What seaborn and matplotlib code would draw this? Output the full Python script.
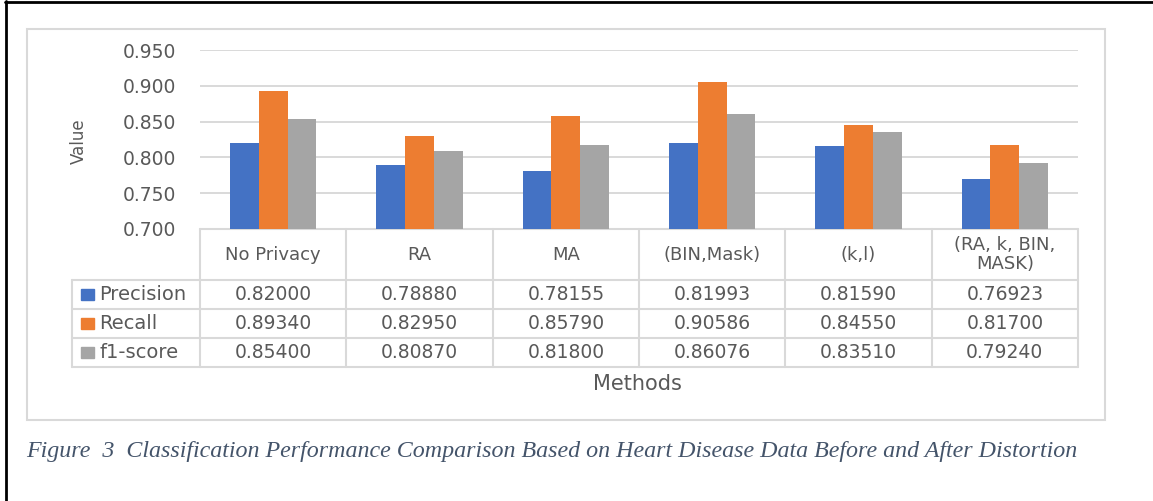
import numpy as np
import pandas as pd
import seaborn as sns
import matplotlib
matplotlib.use("Agg")
import matplotlib.pyplot as plt
from matplotlib.transforms import blended_transform_factory
from matplotlib.patches import Rectangle

# ---------------- data ----------------
methods = ["No Privacy", "RA", "MA", "(BIN,Mask)", "(k,l)", "(RA, k, BIN,\nMASK)"]
series = ["Precision", "Recall", "f1-score"]
precision = [0.82000, 0.78880, 0.78155, 0.81993, 0.81590, 0.76923]
recall = [0.89340, 0.82950, 0.85790, 0.90586, 0.84550, 0.81700]
f1_score = [0.85400, 0.80870, 0.81800, 0.86076, 0.83510, 0.79240]
yticks = [0.700, 0.750, 0.800, 0.850, 0.900, 0.950]
y_label = "Value"
x_label = "Methods"
caption = "Figure  3  Classification Performance Comparison Based on Heart Disease Data Before and After Distortion"
colors = ["#4472C4", "#ED7D31", "#A5A5A5"]

values = {"Precision": precision, "Recall": recall, "f1-score": f1_score}
df = pd.DataFrame(
    [(m, s, v) for s in series for m, v in zip(methods, values[s])],
    columns=["Method", "Metric", "Value"],
)

# ---------------- figure ----------------
W, H = 1153, 501
sns.set_style("white")
plt.rcParams["font.family"] = ["DejaVu Sans"]
txt = "#595959"
grid = "#D9D9D9"

fig = plt.figure(figsize=(W / 100, H / 100), dpi=100)
bg = fig.add_axes([0, 0, 1, 1], zorder=0)
bg.set_xlim(0, W)
bg.set_ylim(H, 0)
bg.axis("off")

ax = fig.add_axes([200 / W, 1 - 229 / H, 878 / W, 179 / H], zorder=1)
ax.patch.set_alpha(0)
sns.barplot(data=df, x="Method", y="Value", hue="Metric", hue_order=series,
            order=methods, palette=colors, width=0.59, saturation=1,
            linewidth=0, legend=False, ax=ax)
ax.set_ylim(yticks[0], yticks[-1])
ax.set_xlim(-0.5, len(methods) - 0.5)
ax.set_yticks(yticks)
ax.set_yticklabels([f"{t:.3f}" for t in yticks], color=txt, fontsize=13.5)
ax.set_xticks([])
ax.set_xlabel("")
ax.set_ylabel("")
ax.tick_params(axis="y", length=0, pad=17)
for s in ax.spines.values():
    s.set_visible(False)
ax.yaxis.grid(True, color=grid, lw=1.4)
ax.set_axisbelow(True)

# ---------------- data table ----------------
tr = blended_transform_factory(ax.transData, bg.transData)
n = len(methods)
hdr_top, hdr_bot = 229, 280
row_h = 29
rows_y = [hdr_bot + i * row_h for i in range(len(series) + 1)]
lkw = dict(color=grid, lw=1.5, zorder=2)

bg.plot([-0.5, n - 0.5], [hdr_top, hdr_top], transform=tr, **lkw)
xr = ax.transData.transform((n - 0.5, 0))[0]
for y in rows_y:
    bg.plot([72, xr], [y, y], **lkw)
for i in range(n + 1):
    bg.plot([i - 0.5, i - 0.5], [hdr_top, rows_y[-1]], transform=tr, **lkw)
bg.plot([72, 72], [rows_y[0], rows_y[-1]], **lkw)

for i, m in enumerate(methods):
    bg.text(i, (hdr_top + hdr_bot) / 2, m, transform=tr, ha="center", va="center",
            color=txt, fontsize=13, linespacing=1.05)
for r, s in enumerate(series):
    yc = rows_y[r] + row_h / 2
    bg.add_patch(Rectangle((81, yc - 5.5), 13, 11, color=colors[r], zorder=3))
    bg.text(99, yc, s, ha="left", va="center", color=txt, fontsize=14)
    for i, v in enumerate(values[s]):
        bg.text(i, yc, f"{v:.5f}", transform=tr, ha="center", va="center",
                color=txt, fontsize=13.5)

# axis titles
bg.text(637, 384, x_label, ha="center", va="center", color=txt, fontsize=15)
bg.text(79, 141, y_label, ha="center", va="center", rotation=90, color=txt, fontsize=12)

# chart border and page borders
bg.add_patch(Rectangle((27, 29), 1105 - 27, 420 - 29, fill=False, edgecolor=grid, lw=1.5))
bg.plot([5, W], [1.5, 1.5], color="black", lw=2)
bg.plot([5.5, 5.5], [1, H], color="black", lw=2)

# caption
bg.text(26, 452, caption, ha="left", va="center", color="#44546A",
        family="Liberation Serif", style="italic", fontsize=17.3)

fig.savefig("out.png", dpi=100)
